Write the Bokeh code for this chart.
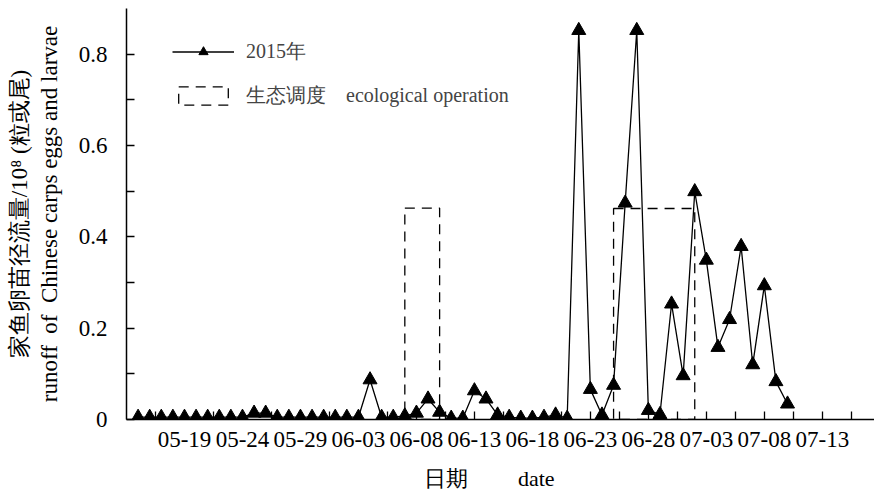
import pandas as pd
from bokeh.plotting import figure
from bokeh.models import (Range1d, LinearAxis, FixedTicker, DatetimeTickFormatter,
                          CustomJSTickFormatter, Legend, LegendItem)
from bokeh.embed import file_html
from bokeh.resources import INLINE

# ---------------- data ----------------
start_date = "2015-05-15"
runoff_2015 = [
    0.005, 0.005, 0.005, 0.005, 0.005, 0.005, 0.005, 0.005, 0.005, 0.005,   # 05-15 .. 05-24
    0.014, 0.014, 0.005, 0.005, 0.005, 0.005, 0.005, 0.005, 0.005, 0.005,   # 05-25 .. 06-03
    0.087, 0.005, 0.005, 0.008, 0.014, 0.045, 0.016, 0.003, 0.003, 0.063,   # 06-04 .. 06-13
    0.045, 0.010, 0.005, 0.003, 0.003, 0.005, 0.010, 0.003, 0.852, 0.066,   # 06-14 .. 06-23
    0.010, 0.075, 0.474, 0.852, 0.020, 0.011, 0.253, 0.096, 0.499, 0.349,   # 06-24 .. 07-03
    0.158, 0.219, 0.379, 0.120, 0.293, 0.083, 0.034,                        # 07-04 .. 07-10
]
ops_start = ["2015-06-07", "2015-06-25"]
ops_end = ["2015-06-10", "2015-07-02"]
ops_top = [0.463, 0.462]

tick_dates = ["2015-05-19", "2015-05-24", "2015-05-29", "2015-06-03", "2015-06-08", "2015-06-13",
              "2015-06-18", "2015-06-23", "2015-06-28", "2015-07-03", "2015-07-08", "2015-07-13"]
y_ticks = [0, 0.2, 0.4, 0.6, 0.8]
y_minor = [0.1, 0.3, 0.5, 0.7]

series_label = "2015年"
ops_label = "生态调度\u00a0\u00a0\u00a0\u00a0ecological operation"
x_title = "日期" + "\u00a0" * 9 + "date" + "\u00a0" * 4
y_title_1 = "家鱼卵苗径流量/10⁸ (粒或尾)"
y_title_2 = "runoff\u00a0 of\u00a0 Chinese carps eggs and larvae"

FONT = "Liberation Serif"

# ---------------- build ----------------
dates = pd.date_range(start_date, periods=len(runoff_2015), freq="D")
t_major = pd.to_datetime(tick_dates)
half = pd.Timedelta(hours=60)
t_minor = [t - half for t in t_major] + [t_major[-1] + half]

def ms(t):
    return pd.Timestamp(t).value / 1e6

x0 = pd.Timestamp("2015-05-14")
x1 = x0 + pd.Timedelta(days=64.5)

p = figure(width=874, height=493, x_axis_type="datetime",
           x_range=Range1d(x0, x1), y_range=Range1d(0, 0.9),
           output_backend="svg", toolbar_location=None,
           min_border_left=126, min_border_right=0, min_border_top=8, min_border_bottom=74)
p.outline_line_color = None
p.xgrid.visible = False
p.ygrid.visible = False

q = p.quad(left=pd.to_datetime(ops_start), right=pd.to_datetime(ops_end), bottom=0, top=ops_top,
           fill_color=None, line_color="black", line_dash="10 7", line_width=1.3)
l = p.line(dates, runoff_2015, line_color="black", line_width=1.3)
s = p.scatter(dates, runoff_2015, marker="triangle", size=14, fill_color="black", line_color="black")

# x axis
xa = p.xaxis[0]
xa.ticker = FixedTicker(ticks=[ms(t) for t in t_major], minor_ticks=[ms(t) for t in t_minor])
xa.formatter = DatetimeTickFormatter(days="%m-%d", months="%m-%d", years="%m-%d", hours="%m-%d",
                                     minutes="%m-%d", seconds="%m-%d", milliseconds="%m-%d",
                                     microseconds="%m-%d", minsec="%m-%d", hourmin="%m-%d")
xa.axis_label = x_title
xa.axis_label_standoff = 16

# y axis
ya = p.yaxis[0]
ya.ticker = FixedTicker(ticks=y_ticks, minor_ticks=y_minor)
ya.formatter = CustomJSTickFormatter(code="return tick == 0 ? '0' : tick.toFixed(1);")
ya.major_label_standoff = 19

for ax in (xa, ya):
    ax.axis_line_width = 1.5
    ax.axis_line_color = "black"
    ax.major_tick_in = 8
    ax.major_tick_out = 0
    ax.minor_tick_in = 8
    ax.minor_tick_out = 0
    ax.major_tick_line_width = 1.3
    ax.minor_tick_line_width = 1.3
    ax.major_tick_line_color = "black"
    ax.minor_tick_line_color = "black"
    ax.major_label_text_font = FONT
    ax.major_label_text_font_size = "23px"
    ax.major_label_text_color = "black"
    ax.axis_label_text_font = FONT
    ax.axis_label_text_font_size = "22px"
    ax.axis_label_text_font_style = "normal"
    ax.axis_label_text_color = "black"
xa.major_label_standoff = 12

# y titles as two label-only axes
for title, standoff in ((y_title_2, 14), (y_title_1, 2)):
    ax = LinearAxis(axis_label=title, ticker=FixedTicker(ticks=[]),
                    axis_line_color=None, major_tick_line_color=None, minor_tick_line_color=None,
                    major_tick_in=0, major_tick_out=0, minor_tick_in=0, minor_tick_out=0,
                    major_label_standoff=0, axis_label_standoff=standoff,
                    axis_label_text_font=FONT, axis_label_text_font_size="23px",
                    axis_label_text_font_style="normal", axis_label_text_color="black")
    p.add_layout(ax, "left")

legend = Legend(items=[LegendItem(label=series_label, renderers=[l, s]),
                       LegendItem(label=ops_label, renderers=[q])],
                location=(46, 310), padding=0, margin=0, spacing=17,
                glyph_width=62, glyph_height=23, label_height=23, label_standoff=12,
                label_text_font=FONT, label_text_font_size="20px",
                border_line_color=None, background_fill_alpha=0)
p.add_layout(legend)

open("out.html", "w").write(file_html(p, INLINE))
